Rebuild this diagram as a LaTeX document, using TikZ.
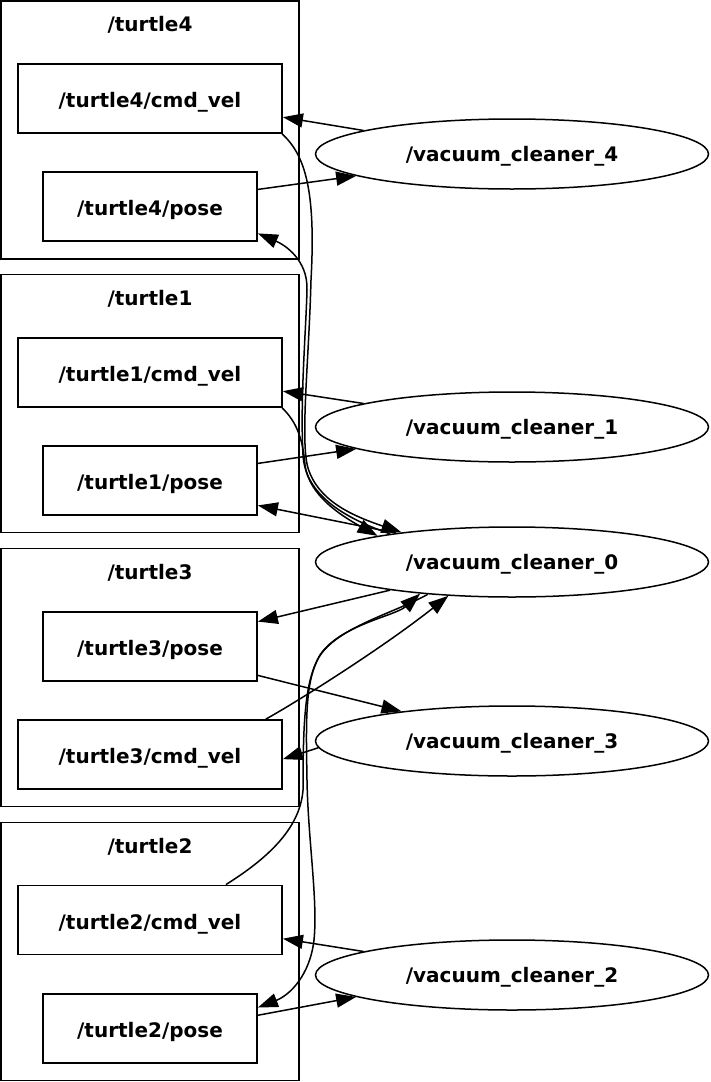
\documentclass[tikz,border=0pt]{standalone}
\usepackage{fontspec}
\setmainfont{DejaVu Sans}
\usetikzlibrary{arrows.meta,shapes.geometric}

\tikzset{
  lbl/.style={font=\bfseries\fontsize{20}{24}\selectfont},
  grp/.style={draw, line width=1.8pt, minimum width=298pt, minimum height=258pt, inner sep=0pt},
  grptitle/.style={lbl},
  topic/.style={draw, lbl, line width=1.8pt, minimum height=69pt, inner sep=0pt, text height=18pt, text depth=0pt},
  cmdbox/.style={topic, minimum width=264pt},
  posebox/.style={topic, minimum width=214pt},
  proc/.style={draw, lbl, ellipse, line width=1.5pt, minimum width=393pt, minimum height=70pt, inner sep=0pt, text height=15pt, text depth=0pt},
  wire/.style={line width=1.5pt, -{Triangle[length=20pt,width=14pt]}},
}

\begin{document}
\begin{tikzpicture}[x=1pt,y=-1pt]
\useasboundingbox (0,0) rectangle (710,1082);

% groups
\node[grp] (g4) at (150,130) {};
\node[grptitle] (g4t) at (150,25) {/turtle4};
\node[grp] (g1) at (150,403.5) {};
\node[grptitle] (g1t) at (150,299) {/turtle1};
\node[grp] (g3) at (150,677.5) {};
\node[grptitle] (g3t) at (150,573) {/turtle3};
\node[grp] (g2) at (150,951.5) {};
\node[grptitle] (g2t) at (150,847) {/turtle2};

% topics
\node[cmdbox] (t4cmd) at (150,98.5) {/turtle4/cmd\_vel};
\node[posebox] (t4pose) at (150,206.5) {/turtle4/pose};
\node[cmdbox] (t1cmd) at (150,372.5) {/turtle1/cmd\_vel};
\node[posebox] (t1pose) at (150,480.5) {/turtle1/pose};
\node[posebox] (t3pose) at (150,646.5) {/turtle3/pose};
\node[cmdbox] (t3cmd) at (150,754.5) {/turtle3/cmd\_vel};
\node[cmdbox] (t2cmd) at (150,920) {/turtle2/cmd\_vel};
\node[posebox] (t2pose) at (150,1028.5) {/turtle2/pose};

% cleaners
\node[proc] (vc4) at (512,154) {/vacuum\_cleaner\_4};
\node[proc] (vc1) at (512,427) {/vacuum\_cleaner\_1};
\node[proc] (vc0) at (512,562) {/vacuum\_cleaner\_0};
\node[proc] (vc3) at (512,741) {/vacuum\_cleaner\_3};
\node[proc] (vc2) at (512,975) {/vacuum\_cleaner\_2};

% straight links
\draw[wire] (vc4.171) -- (t4cmd.-8);
\draw[wire] (t4pose.9) -- (vc4.-172);
\draw[wire] (vc1.171) -- (t1cmd.-8);
\draw[wire] (t1pose.9) -- (vc1.-172);
\draw[wire] (vc0.166) -- (t1pose.-13);
\draw[wire] (vc0.-167) -- (t3pose.13);
\draw[wire] (t3pose.-15) -- (vc3.165);
\draw[wire] (vc3.-178) -- (t3cmd.-2);
\draw[wire] (vc2.171) -- (t2cmd.-8);
\draw[wire] (t2pose.7) -- (vc2.-172);

% long links to and from vacuum_cleaner_0
\draw[wire] (t4cmd.-15) .. controls (305,155) and (316,190) .. (311,280)
  .. controls (309,360) and (300,440) .. (308,468)
  .. controls (318,500) and (350,515) .. (vc0.165);
\draw[wire] (vc0.167) .. controls (335,515) and (305,490) .. (303,455)
  .. controls (300,400) and (306,330) .. (307,290)
  .. controls (308,260) and (285,245) .. (t4pose.-14);
\draw[wire] (t1cmd.-15) .. controls (297,422) and (303,440) .. (305,465)
  .. controls (309,495) and (340,515) .. (vc0.169);
\draw[wire] (t3cmd.17) .. controls (290,706) and (380,650) .. (vc0.-152);
\draw[wire] (t2cmd.25) .. controls (265,860) and (300,830) .. (303,790)
  .. controls (303,720) and (305,680) .. (320,655)
  .. controls (340,625) and (395,616) .. (vc0.-161);
\draw[wire] (vc0.-159) .. controls (392,614) and (338,627) .. (319,657)
  .. controls (305,682) and (306,720) .. (307,780)
  .. controls (308,840) and (318,900) .. (314,940)
  .. controls (310,975) and (290,995) .. (t2pose.11);
\end{tikzpicture}
\end{document}
